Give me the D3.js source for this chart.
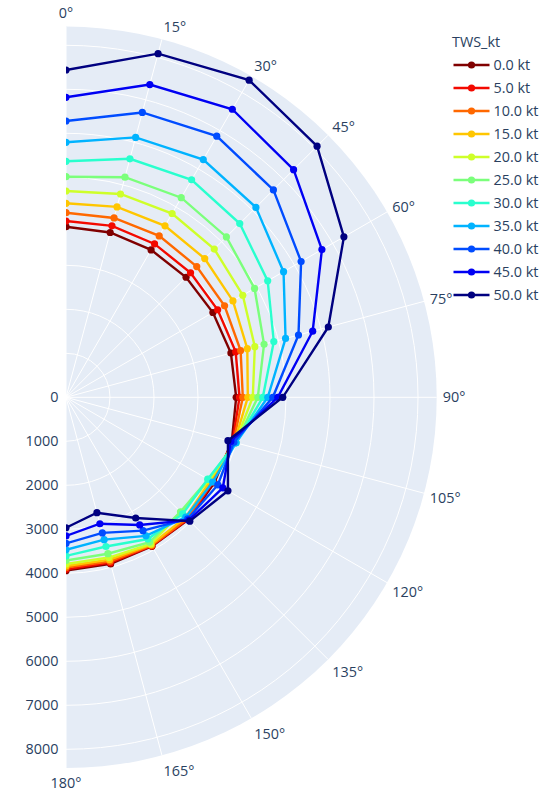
<!DOCTYPE html>
<html>
<head>
<meta charset="utf-8">
<script src="https://cdn.jsdelivr.net/npm/d3@7"></script>
<style>
    body { margin: 0; background: #fff; }
    text { font-family: "Open Sans", sans-serif; fill: #2a3f5f; }
</style>
</head>
<body>
<div id="chart"></div>
<script>
(function () {
    "use strict";

    // polar data, one array per wind speed, values at each angle
    const angles = [0, 15, 30, 45, 60, 75, 90, 105, 120, 135, 150, 165, 180];
    const twsLabels = ["0.0 kt", "5.0 kt", "10.0 kt", "15.0 kt", "20.0 kt", "25.0 kt",
        "30.0 kt", "35.0 kt", "40.0 kt", "45.0 kt", "50.0 kt"];

    const tws0 = [3878, 3878, 3868, 3859, 3855, 3880, 3868, 3900, 3890, 3930, 3910, 3920, 3940];
    const tws5 = [4007, 4034, 4025, 4003, 3980, 3993, 3943, 3920, 3860, 3920, 3900, 3890, 3910];
    const tws10 = [4196, 4220, 4236, 4202, 4161, 4109, 4018, 3940, 3830, 3900, 3890, 3860, 3870];
    const tws15 = [4409, 4480, 4500, 4459, 4381, 4266, 4132, 3960, 3790, 3850, 3870, 3820, 3835];
    const tws20 = [4689, 4784, 4823, 4765, 4639, 4443, 4245, 3980, 3760, 3700, 3850, 3770, 3790];
    const tws25 = [5014, 5179, 5238, 5155, 4948, 4660, 4359, 4000, 3730, 3680, 3800, 3680, 3710];
    const tws30 = [5364, 5612, 5709, 5584, 5293, 4889, 4473, 4000, 3720, 3750, 3720, 3510, 3605];
    const tws35 = [5795, 6115, 6239, 6104, 5709, 5166, 4586, 4000, 3850, 3850, 3636, 3350, 3465];
    const tws40 = [6280, 6702, 6853, 6666, 6170, 5470, 4700, 3950, 3985, 3910, 3500, 3190, 3320];
    const tws45 = [6818, 7359, 7559, 7315, 6716, 5804, 4814, 3880, 4115, 3950, 3350, 2975, 3150];
    const tws50 = [7439, 8086, 8323, 8070, 7293, 6172, 4927, 3810, 4250, 3980, 3168, 2715, 2965];

    const series = [tws0, tws5, tws10, tws15, tws20, tws25, tws30, tws35, tws40, tws45, tws50];

    const radialTicks = [0, 1000, 2000, 3000, 4000, 5000, 6000, 7000, 8000];
    const radialMax = 8425;
    const legendTitle = "TWS_kt";

    const W = 556, H = 792;
    const cx = 66, cy = 397.3, R = 370.7;
    const FS = 14.4;
    const PAD = 6;

    let svg = d3.select("#chart").append("svg")
        .attr("width", W).attr("height", H);

    let r = d3.scaleLinear().domain([0, radialMax]).range([0, R]);
    let rad = d => d * Math.PI / 180;

    // matplotlib jet, 0kt is the red end
    const jetR = d3.scaleLinear().domain([0, 0.35, 0.66, 0.89, 1]).range([0, 0, 1, 1, 0.5]);
    const jetG = d3.scaleLinear().domain([0, 0.125, 0.375, 0.64, 0.91, 1]).range([0, 0, 1, 1, 0, 0]);
    const jetB = d3.scaleLinear().domain([0, 0.11, 0.34, 0.65, 1]).range([0.5, 1, 1, 0, 0]);
    let jet = t => d3.rgb(jetR(t) * 255, jetG(t) * 255, jetB(t) * 255).formatHex();
    let color = i => jet(1 - i / (series.length - 1));

    let plot = svg.append("g").attr("transform", `translate(${cx},${cy})`);

    let sector = d3.arc().innerRadius(0).outerRadius(R)
        .startAngle(0).endAngle(Math.PI);

    plot.append("path").attr("d", sector()).attr("fill", "#e5ecf6");

    svg.append("defs").append("clipPath").attr("id", "sector-clip")
        .append("path").attr("d", sector());

    // grid circles
    plot.selectAll(".rgrid")
        .data(radialTicks.filter(v => v > 0))
        .enter().append("path")
        .attr("class", "rgrid")
        .attr("d", v => {
            let p = d3.path();
            p.arc(0, 0, r(v), -Math.PI / 2, Math.PI / 2);
            return p.toString();
        })
        .attr("fill", "none").attr("stroke", "#fff").attr("stroke-width", 1);

    // grid rays
    plot.selectAll(".agrid")
        .data(angles)
        .enter().append("line")
        .attr("class", "agrid")
        .attr("x1", 0).attr("y1", 0)
        .attr("x2", a => R * Math.sin(rad(a)))
        .attr("y2", a => -R * Math.cos(rad(a)))
        .attr("stroke", "#fff").attr("stroke-width", 1);

    // angular labels, placed like plotly does
    plot.selectAll(".alabel")
        .data(angles)
        .enter().append("text")
        .attr("class", "alabel")
        .attr("font-size", FS)
        .each(function (a) {
            let t = rad(90 - a);
            let c = Math.cos(t), s = Math.sin(t);
            let ff = s > 0.001 ? 0.2 : 1;
            let x = R * c + c * PAD;
            let y = -R * s - s * (PAD + FS * ff) + Math.abs(c) * FS * 0.35;
            d3.select(this)
                .attr("x", x).attr("y", y)
                .attr("text-anchor", Math.abs(c) < 0.1 ? "middle" : (c > 0 ? "start" : "end"))
                .text(a + "°");
        });

    // radial labels along the 180 axis
    plot.selectAll(".rlabel")
        .data(radialTicks)
        .enter().append("text")
        .attr("class", "rlabel")
        .attr("font-size", FS)
        .attr("text-anchor", "end")
        .attr("x", -7.5)
        .attr("y", v => r(v) + FS * 0.35)
        .text(v => v);

    let traces = plot.append("g").attr("clip-path", "url(#sector-clip)");

    let line = d3.lineRadial()
        .angle((d, i) => rad(angles[i]))
        .radius(d => r(d));

    series.forEach((values, i) => {
        let g = traces.append("g");
        g.append("path")
            .attr("d", line(values))
            .attr("fill", "none")
            .attr("stroke", color(i))
            .attr("stroke-width", 2.4);
        g.selectAll("circle")
            .data(values)
            .enter().append("circle")
            .attr("cx", (d, k) => r(d) * Math.sin(rad(angles[k])))
            .attr("cy", (d, k) => -r(d) * Math.cos(rad(angles[k])))
            .attr("r", 3.6)
            .attr("fill", color(i));
    });

    // legend
    let legend = svg.append("g").attr("transform", "translate(452,0)");
    legend.append("text")
        .attr("x", 0).attr("y", 41.7 + FS * 0.35)
        .attr("font-size", FS)
        .text(legendTitle);

    let items = legend.selectAll(".item")
        .data(twsLabels)
        .enter().append("g")
        .attr("class", "item")
        .attr("transform", (d, i) => `translate(0,${65 + i * 23})`);

    items.append("line")
        .attr("x1", 1.5).attr("x2", 37.5)
        .attr("stroke", (d, i) => color(i))
        .attr("stroke-width", 2.4);
    items.append("circle")
        .attr("cx", 19.5).attr("r", 3.6)
        .attr("fill", (d, i) => color(i));
    items.append("text")
        .attr("x", 41.5).attr("y", FS * 0.35)
        .attr("font-size", FS)
        .text(d => d);
})();
</script>
</body>
</html>
